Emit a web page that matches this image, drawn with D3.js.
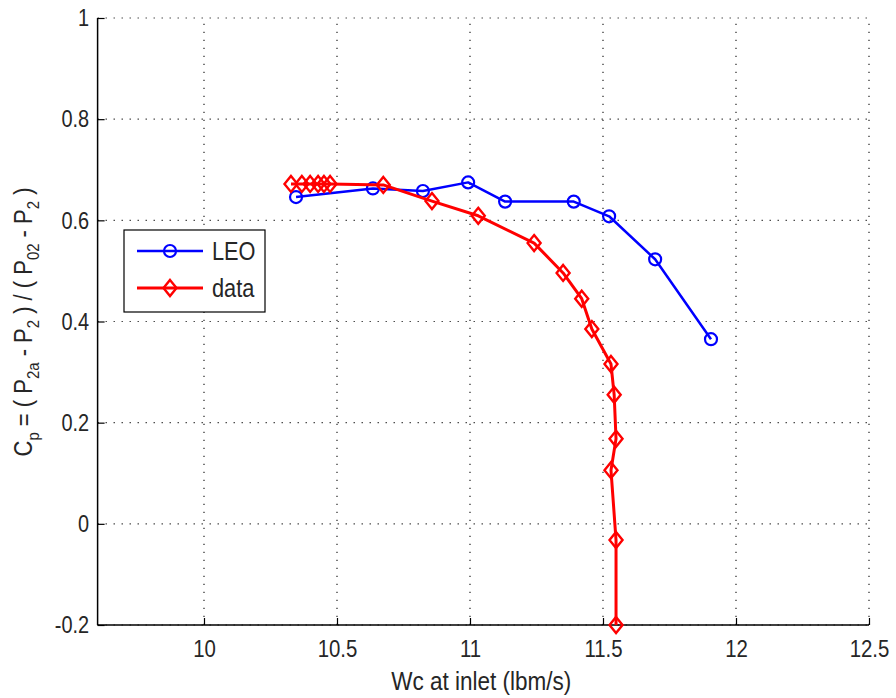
<!DOCTYPE html>
<html>
<head>
<meta charset="utf-8">
<script src="https://cdn.jsdelivr.net/npm/d3@7"></script>
<style>
  html, body { margin: 0; padding: 0; background: #fff; }
  svg text { font-family: "Liberation Sans", Arial, sans-serif; fill: #262626; }
</style>
</head>
<body>
<svg id="chart" width="896" height="698"></svg>
<script>
// ---- data ----
const leoX = [10.346, 10.635, 10.823, 10.993, 11.132, 11.390, 11.523, 11.696, 11.906];
const leoY = [0.646, 0.663, 0.658, 0.675, 0.637, 0.637, 0.608, 0.523, 0.365];
const dataX = [10.327, 10.368, 10.399, 10.429, 10.451, 10.474, 10.674, 10.857, 11.031, 11.241, 11.350, 11.420, 11.458, 11.530, 11.542, 11.549, 11.530, 11.549, 11.549];
const dataY = [0.672, 0.672, 0.672, 0.672, 0.672, 0.672, 0.670, 0.638, 0.609, 0.555, 0.496, 0.445, 0.385, 0.316, 0.255, 0.168, 0.106, -0.032, -0.200];
const xTicks = [10, 10.5, 11, 11.5, 12, 12.5];
const yTicks = [-0.2, 0, 0.2, 0.4, 0.6, 0.8, 1];
const xDomain = [9.6, 12.5];
const yDomain = [-0.2, 1];
const seriesNames = ["LEO", "data"];
const xLabel = "Wc at inlet (lbm/s)";

// ---- layout ----
const L = 97.6, R = 869, T = 18, B = 625;
const svg = d3.select("#chart");
const x = d3.scaleLinear().domain(xDomain).range([L, R]);
const y = d3.scaleLinear().domain(yDomain).range([B, T]);

function narrow(sel, f) {
  sel.each(function() {
    const w = this.getComputedTextLength();
    this.setAttribute("textLength", w * f);
    this.setAttribute("lengthAdjust", "spacingAndGlyphs");
  });
}

// grid
const grid = svg.append("g").attr("stroke", "#222").attr("stroke-width", 1.2)
  .attr("stroke-dasharray", "1.2,6.8").attr("fill", "none");
xTicks.forEach(t => grid.append("line").attr("x1", x(t)).attr("x2", x(t)).attr("y1", B).attr("y2", T));
yTicks.forEach(t => grid.append("line").attr("x1", L).attr("x2", R).attr("y1", y(t)).attr("y2", y(t)));

// axes
const fmt = d => String(+d.toFixed(1));
const xAxis = d3.axisBottom(x).tickValues(xTicks).tickSize(-7).tickPadding(15).tickFormat(fmt);
const yAxis = d3.axisLeft(y).tickValues(yTicks).tickSize(-7).tickPadding(8.5).tickFormat(fmt);
const gx = svg.append("g").attr("transform", `translate(0,${B})`).call(xAxis);
const gy = svg.append("g").attr("transform", `translate(${L},0)`).call(yAxis);
[gx, gy].forEach(g => {
  g.select(".domain").remove();
  g.selectAll(".tick line").attr("stroke", "#000").attr("stroke-width", 1.2);
  g.selectAll("text").attr("font-size", 24).attr("fill", "#262626")
    .style("font-family", '"Liberation Sans", Arial, sans-serif');
});
narrow(gx.selectAll("text"), 0.85);
narrow(gy.selectAll("text"), 0.83);
svg.append("line").attr("x1", L).attr("x2", R).attr("y1", B).attr("y2", B).attr("stroke", "#000").attr("stroke-width", 1.5);
svg.append("line").attr("x1", L).attr("x2", L).attr("y1", T).attr("y2", B).attr("stroke", "#000").attr("stroke-width", 1.5);

// x label
const xl = svg.append("text").attr("x", (L + R) / 2 - 2).attr("y", 690).attr("text-anchor", "middle")
  .attr("font-size", 25).text(xLabel);
narrow(xl, 0.9);

// y label with subscripts
const yl = svg.append("text").attr("transform", "translate(32,322) rotate(-90) scale(0.88,1)")
  .attr("text-anchor", "middle").attr("font-size", 25);
const parts = [["C",0],["p",1],[" = ( P",0],["2a",1],[" - P",0],["2",1],[" ) / ( P",0],["02",1],[" - P",0],["2",1],[" )",0]];
parts.forEach(([s, sub], i) => {
  const prevSub = i > 0 ? parts[i - 1][1] : 0;
  const ts = yl.append("tspan").text(s)
    .attr("dy", sub && !prevSub ? 7 : (!sub && prevSub ? -7 : 0));
  if (sub) ts.attr("font-size", 17);
});

// series
const line = d3.line().x(d => x(d[0])).y(d => y(d[1]));
const leo = leoX.map((v, i) => [v, leoY[i]]);
const dat = dataX.map((v, i) => [v, dataY[i]]);

function drawSeries(pts, color, lw, marker) {
  const g = svg.append("g");
  g.append("path").datum(pts).attr("d", line).attr("fill", "none")
    .attr("stroke", color).attr("stroke-width", lw).attr("stroke-linejoin", "round");
  pts.forEach(p => marker(g, x(p[0]), y(p[1]), color));
}
const circle = (g, cx, cy, c) => g.append("circle").attr("cx", cx).attr("cy", cy).attr("r", 6)
  .attr("fill", "none").attr("stroke", c).attr("stroke-width", 2.2);
const diamond = (g, cx, cy, c) => g.append("path")
  .attr("d", `M${cx},${cy - 8}L${cx + 6.5},${cy}L${cx},${cy + 8}L${cx - 6.5},${cy}Z`)
  .attr("fill", "none").attr("stroke", c).attr("stroke-width", 2.4);

drawSeries(leo, "#0000ff", 2.5, circle);
drawSeries(dat, "#ff0000", 3, diamond);

// legend
const lg = svg.append("g");
lg.append("rect").attr("x", 124).attr("y", 230).attr("width", 141).attr("height", 82)
  .attr("fill", "#fff").attr("stroke", "#000").attr("stroke-width", 1.2);
const legendItems = [[seriesNames[0], "#0000ff", 2.5, circle, 251], [seriesNames[1], "#ff0000", 3, diamond, 288]];
legendItems.forEach(([name, c, lw, mk, ly]) => {
  lg.append("line").attr("x1", 137).attr("x2", 203).attr("y1", ly).attr("y2", ly)
    .attr("stroke", c).attr("stroke-width", lw);
  mk(lg, 170, ly, c);
  const t = lg.append("text").attr("x", 212).attr("y", ly + 9).attr("font-size", 25).text(name);
  narrow(t, 0.87);
});
</script>
</body>
</html>
